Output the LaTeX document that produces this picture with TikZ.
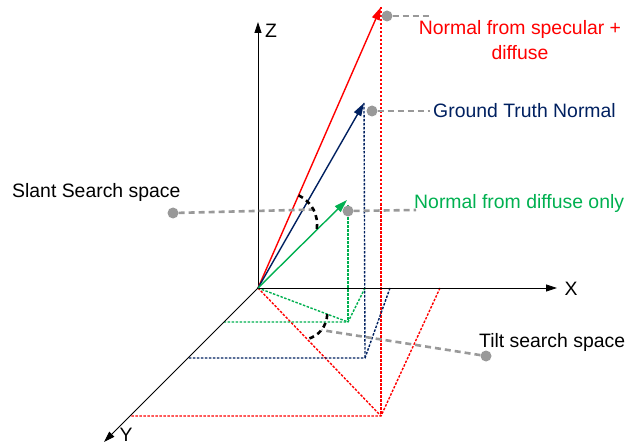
\documentclass[tikz,border=0pt]{standalone}
\usepackage{fontspec}
\setmainfont{Liberation Sans}
\usepackage{xcolor}
\usepackage{tikz}
\usetikzlibrary{arrows.meta, positioning, calc}
\definecolor{specRed}{HTML}{FF0000}
\definecolor{truthBlue}{HTML}{002060}
\definecolor{diffGreen}{HTML}{00B050}
\definecolor{leadGray}{HTML}{999999}
\tikzset{
  axis/.style={black, line width=0.8pt, -{Triangle[length=11pt, width=7pt]}},
  normal/.style={line width=1.4pt, -{Triangle[length=13pt, width=8pt]}},
  proj/.style={line width=1.4pt, dash pattern=on 2.5pt off 1.5pt},
  lead/.style={leadGray, line width=2.6pt, dash pattern=on 6pt off 4pt},
  dot/.style={circle, fill=leadGray, inner sep=0pt, minimum size=11pt},
  arcmark/.style={black, line width=2.6pt, dash pattern=on 5pt off 4pt},
  lbl/.style={font=\fontsize{19.4}{25}\selectfont, inner sep=0pt}
}

\begin{document}
\begin{tikzpicture}[x=1pt, y=-1pt]
  \useasboundingbox (0,0) rectangle (628,446);
  \coordinate (O) at (258,288);
  \coordinate (xEnd) at (557,288);
  \coordinate (yEnd) at (104,442);
  \coordinate (zEnd) at (258,22);

  \coordinate (specTip) at (381,7);
  \coordinate (specFoot) at (381,416);
  \coordinate (specX) at (440,288);
  \coordinate (specY) at (130,416);
  \coordinate (truthTip) at (364,103);
  \coordinate (truthFoot) at (365,358);
  \coordinate (truthX) at (390,288);
  \coordinate (truthY) at (188,358);
  \coordinate (diffTip) at (347,200);
  \coordinate (diffFoot) at (348,322);
  \coordinate (diffX) at (365,288);
  \coordinate (diffY) at (224,322);

  \draw[proj, specRed] (specTip) -- (specFoot);
  \draw[proj, specRed] (O) -- (specFoot);
  \draw[proj, specRed] (specX) -- (specFoot) -- (specY);
  \draw[proj, truthBlue] (truthTip) -- (truthFoot);
  \draw[proj, truthBlue] (truthX) -- (truthFoot) -- (truthY);
  \draw[proj, diffGreen] ($(diffTip)+(1,5)$) -- (diffFoot);
  \draw[proj, diffGreen] (O) -- (diffFoot);
  \draw[proj, diffGreen] (diffX) -- (diffFoot) -- (diffY);

  \draw[axis] (O) -- (xEnd);
  \draw[axis] (O) -- (yEnd);
  \draw[axis] (O) -- (zEnd);
  \node[lbl] (xLbl) at (571,289) {X};
  \node[lbl] (yLbl) at (126,435) {Y};
  \node[lbl] (zLbl) at (271,31) {Z};

  \draw[normal, specRed] (O) -- (specTip);
  \draw[normal, truthBlue] (O) -- (truthTip);
  \draw[normal, diffGreen] (O) -- (diffTip);

  \node[dot] (specDot) at (387,16) {};
  \node[dot] (truthDot) at (372,111) {};
  \node[dot] (diffDot) at (348,211) {};
  \node[dot] (slantDot) at (173,213) {};
  \node[dot] (tiltDot) at (486,356) {};
  \coordinate (specEnd) at (430,16);
  \coordinate (truthEnd) at (430,111);
  \coordinate (diffEnd) at (416,210);

  \draw[lead] (specDot) -- (specEnd);
  \draw[lead] (truthDot) -- (truthEnd);
  \draw[lead] (diffDot) -- (diffEnd);

  \path ($(O)!0.33!(specTip)$) to[bend left=35] coordinate[pos=0.5] (slantMid) ($(O)!0.66!(diffTip)$);
  \path ($(O)!0.77!(diffFoot)$) to[bend left=35] coordinate[pos=0.5] (tiltMid) ($(O)!0.40!(specFoot)$);
  \draw[lead] (slantDot) -- (slantMid);
  \draw[lead] (tiltDot) -- (tiltMid);
  \draw[arcmark] ($(O)!0.33!(specTip)$) to[bend left=35] ($(O)!0.66!(diffTip)$);
  \draw[arcmark] ($(O)!0.77!(diffFoot)$) to[bend left=35] ($(O)!0.40!(specFoot)$);

  \node[lbl, specRed, align=center] (specLbl) at (520,40) {Normal from specular +\\diffuse};
  \node[lbl, truthBlue, anchor=west] (truthLbl) at (433,111) {Ground Truth Normal};
  \node[lbl, diffGreen, anchor=west] (diffLbl) at (414,203) {Normal from diffuse only};
  \node[lbl, anchor=west] (slantLbl) at (12,192) {Slant Search space};
  \node[lbl, anchor=west] (tiltLbl) at (479,342) {Tilt search space};
\end{tikzpicture}
\end{document}
